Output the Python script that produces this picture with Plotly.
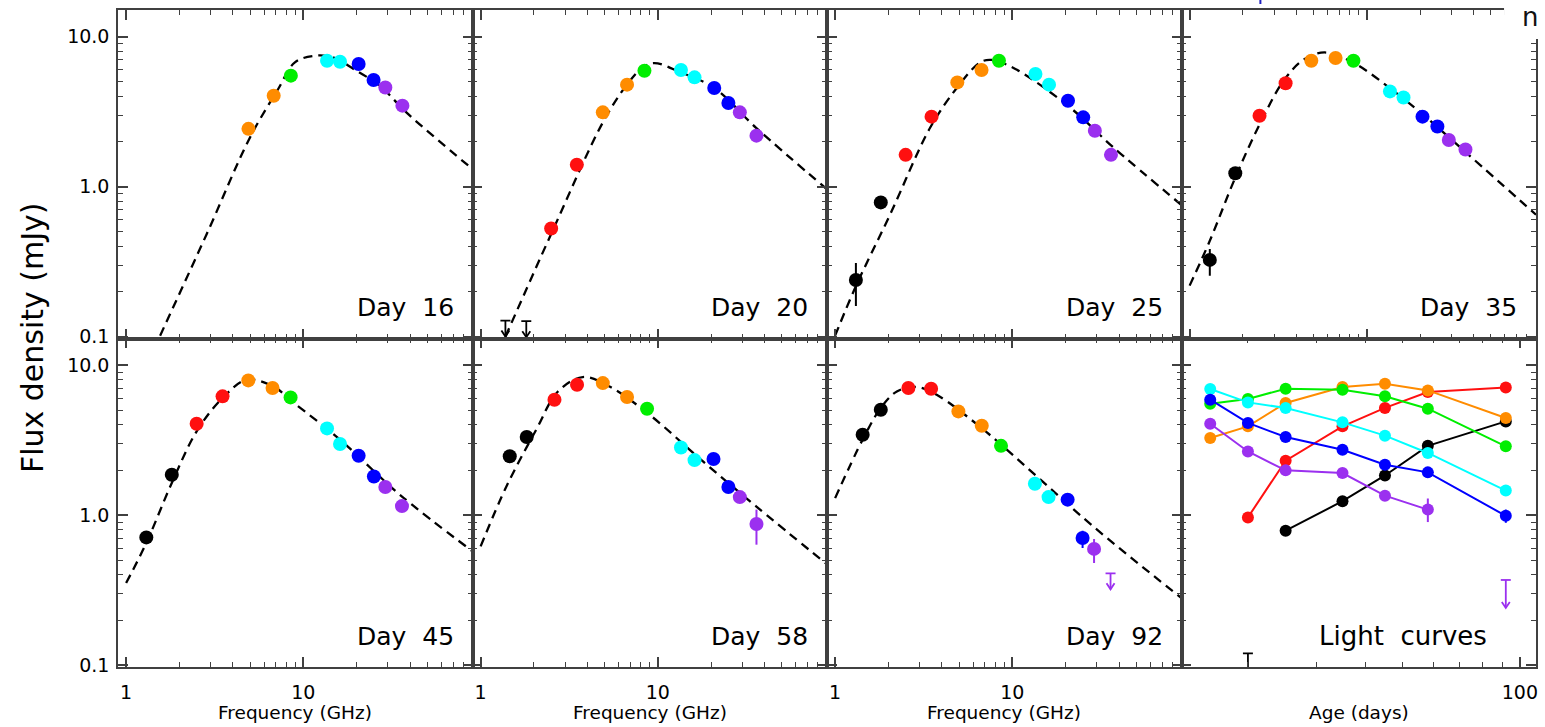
import plotly.graph_objects as go
from plotly.subplots import make_subplots

# ---------------- data ----------------
BAND_COLORS = {"L": "#000000", "S": "#ff1010", "C": "#ff8c00", "X": "#00ee00",
               "Ku": "#00ffff", "K": "#0000ff", "Ka": "#9b30ef"}

EPOCHS = ["Day 16", "Day 20", "Day 25", "Day 35", "Day 45", "Day 58", "Day 92"]

FREQ_D16 = [4.9, 6.8, 8.5, 13.6, 16.1, 20.5, 24.9, 29.0, 36.2]
FLUX_D16 = [2.43, 4.04, 5.5, 6.92, 6.81, 6.58, 5.14, 4.59, 3.47]
BAND_D16 = ["C", "C", "X", "Ku", "Ku", "K", "K", "Ka", "Ka"]

FREQ_D20 = [2.5, 3.49, 4.89, 6.7, 8.4, 13.5, 16.1, 20.8, 25.0, 29.0, 36.0]
FLUX_D20 = [0.527, 1.40, 3.13, 4.79, 5.93, 6.0, 5.36, 4.55, 3.61, 3.13, 2.19]
BAND_D20 = ["S", "S", "C", "C", "X", "Ku", "Ku", "K", "K", "Ka", "Ka"]

FREQ_D25 = [1.31, 1.81, 2.5, 3.5, 4.89, 6.7, 8.4, 13.5, 16.1, 20.6, 25.1, 29.2, 36.0]
FLUX_D25 = [0.239, 0.786, 1.63, 2.93, 4.96, 6.0, 6.92, 5.64, 4.79, 3.74, 2.9, 2.36, 1.63]
BAND_D25 = ["L", "L", "S", "S", "C", "C", "X", "Ku", "Ku", "K", "K", "Ka", "Ka"]

FREQ_D35 = [1.3, 1.81, 2.48, 3.48, 4.86, 6.66, 8.4, 13.5, 16.1, 20.6, 25.0, 29.0, 36.0]
FLUX_D35 = [0.325, 1.23, 2.97, 4.89, 6.92, 7.21, 6.92, 4.32, 3.93, 2.93, 2.52, 2.05, 1.77]
BAND_D35 = ["L", "L", "S", "S", "C", "C", "X", "Ku", "Ku", "K", "K", "Ka", "Ka"]

FREQ_D45 = [1.3, 1.81, 2.5, 3.5, 4.89, 6.7, 8.47, 13.6, 16.1, 20.5, 25.0, 29.0, 36.0]
FLUX_D45 = [0.711, 1.86, 4.07, 6.2, 7.92, 7.05, 6.1, 3.79, 2.98, 2.49, 1.81, 1.54, 1.15]
BAND_D45 = ["L", "L", "S", "S", "C", "C", "X", "Ku", "Ku", "K", "K", "Ka", "Ka"]

FREQ_D58 = [1.46, 1.82, 2.61, 3.5, 4.89, 6.7, 8.69, 13.5, 16.1, 20.6, 25.0, 29.0, 36.0]
FLUX_D58 = [2.47, 3.32, 5.89, 7.41, 7.6, 6.14, 5.13, 2.83, 2.33, 2.37, 1.54, 1.32, 0.873]
BAND_D58 = ["L", "L", "S", "S", "C", "C", "X", "Ku", "Ku", "K", "K", "Ka", "Ka"]

FREQ_D92 = [1.43, 1.81, 2.59, 3.48, 4.96, 6.72, 8.63, 13.4, 16.0, 20.5, 24.9, 28.9]
FLUX_D92 = [3.44, 5.05, 7.05, 6.97, 4.92, 3.95, 2.9, 1.62, 1.32, 1.27, 0.705, 0.596]
BAND_D92 = ["L", "L", "S", "S", "C", "C", "X", "Ku", "Ku", "K", "K", "Ka"]

# error bars (epoch, frequency, low, high)
ERR_EPOCH = ["Day 25", "Day 35", "Day 58", "Day 92", "Day 92"]
ERR_FREQ = [1.31, 1.3, 36.0, 24.9, 28.9]
ERR_LO = [0.16, 0.255, 0.636, 0.604, 0.48]
ERR_HI = [0.31, 0.385, 1.09, 0.788, 0.693]

# upper limits
UL_EPOCH = ["Day 20", "Day 20", "Day 92"]
UL_FREQ = [1.38, 1.81, 35.8]
UL_FLUX = [0.128, 0.127, 0.41]
UL_BAND = ["L", "L", "Ka"]

# model curves (dashed)
MOD_F_D16 = [1.555, 2.85, 5.0, 7.21, 8.96, 11.6, 14.7, 19.9, 27.0, 38.1, 90.0]
MOD_S_D16 = [0.1016, 0.484, 2.13, 4.48, 6.74, 7.47, 7.28, 5.93, 4.71, 3.13, 1.31]
MOD_F_D20 = [1.38, 2.5, 4.89, 6.62, 8.21, 9.55, 13.5, 20.8, 35.7, 90.0]
MOD_S_D20 = [0.10, 0.484, 2.68, 4.71, 6.24, 6.67, 5.78, 4.55, 2.48, 0.96]
MOD_F_D25 = [1.0, 1.3, 2.05, 3.44, 4.86, 6.58, 7.64, 10.4, 21.1, 37.1, 90.0]
MOD_S_D25 = [0.1016, 0.213, 0.658, 2.48, 4.55, 6.74, 7.0, 6.09, 3.38, 1.83, 0.755]
MOD_F_D35 = [1.0, 1.3, 1.81, 2.49, 3.44, 4.46, 5.78, 8.34, 13.7, 21.1, 37.1, 90.0]
MOD_S_D35 = [0.219, 0.436, 1.15, 2.62, 5.22, 7.1, 7.85, 6.74, 4.48, 2.97, 1.65, 0.65]
MOD_F_D45 = [1.0, 1.3, 1.81, 2.5, 3.5, 4.79, 6.76, 8.77, 16.1, 35.0, 90.0]
MOD_S_D45 = [0.353, 0.653, 1.64, 3.62, 6.04, 8.0, 7.22, 5.65, 3.19, 1.37, 0.575]
MOD_F_D58 = [1.0, 1.4, 2.06, 2.73, 3.77, 5.33, 8.96, 17.9, 35.7, 90.0]
MOD_S_D58 = [0.62, 1.56, 3.72, 6.68, 8.34, 7.22, 4.68, 2.29, 1.15, 0.47]
MOD_F_D92 = [1.0, 1.43, 1.81, 2.23, 2.89, 3.74, 6.87, 13.7, 28.6, 90.0]
MOD_S_D92 = [1.30, 3.19, 5.19, 6.68, 7.16, 6.35, 3.72, 1.82, 0.841, 0.28]

# light curves
LC_AGE = [16, 20, 25, 35, 45, 58, 92]
LC_L = [None, None, 0.788, 1.24, 1.84, 2.9, 4.22]
LC_S = [None, 0.967, 2.31, 3.91, 5.19, 6.62, 7.11]
LC_C = [3.27, 3.91, 5.6, 7.16, 7.53, 6.79, 4.45]
LC_X = [5.54, 5.96, 6.97, 6.87, 6.2, 5.13, 2.88]
LC_KU = [6.94, 5.65, 5.19, 4.16, 3.39, 2.6, 1.46]
LC_K = [5.89, 4.12, 3.32, 2.73, 2.17, 1.93, 0.99]
LC_KA = [4.07, 2.66, 1.99, 1.91, 1.35, 1.09, None]
LC_ERR_BAND = ["Ka", "K"]
LC_ERR_AGE = [58, 92]
LC_ERR_LO = [0.9, 0.89]
LC_ERR_HI = [1.29, 1.09]
LC_UL_BAND = ["L", "Ka"]
LC_UL_AGE = [20, 92]
LC_UL_FLUX = [0.12, 0.37]

FREQ_TICKS = [1, 10]
FREQ_MINOR = [2, 3, 4, 5, 6, 7, 8, 9, 20, 30, 40, 50, 60, 70, 80, 90]
AGE_TICKS = [100]
AGE_MINOR = [20, 30, 40, 50, 60, 70, 80, 90]
FLUX_TICKS = [0.1, 1, 10]
FLUX_TICKTEXT = ["0.1", "1.0", "10.0"]
FLUX_MINOR = [0.2, 0.3, 0.4, 0.5, 0.6, 0.7, 0.8, 0.9, 2, 3, 4, 5, 6, 7, 8, 9]

# ---------------- figure ----------------
SPECTRA = [
    ("Day 16", FREQ_D16, FLUX_D16, BAND_D16, MOD_F_D16, MOD_S_D16),
    ("Day 20", FREQ_D20, FLUX_D20, BAND_D20, MOD_F_D20, MOD_S_D20),
    ("Day 25", FREQ_D25, FLUX_D25, BAND_D25, MOD_F_D25, MOD_S_D25),
    ("Day 35", FREQ_D35, FLUX_D35, BAND_D35, MOD_F_D35, MOD_S_D35),
    ("Day 45", FREQ_D45, FLUX_D45, BAND_D45, MOD_F_D45, MOD_S_D45),
    ("Day 58", FREQ_D58, FLUX_D58, BAND_D58, MOD_F_D58, MOD_S_D58),
    ("Day 92", FREQ_D92, FLUX_D92, BAND_D92, MOD_F_D92, MOD_S_D92),
]
BAND_ORDER = ["L", "S", "C", "X", "Ku", "K", "Ka"]

fig = make_subplots(rows=2, cols=4, horizontal_spacing=0, vertical_spacing=0)

YDEC_PX = 150.0
XDEC_PX_F = 177.5
XDEC_PX_A = 390.0


def ul_path(xs, ys, stem_px, xpx):
    px, py = [], []
    xd = 1.0 / xpx
    yd = 1.0 / YDEC_PX
    for x, y in zip(xs, ys):
        tip = y * 10 ** (-stem_px * yd)
        px += [x * 10 ** (-5 * xd), x * 10 ** (5 * xd), None, x, x, None,
               x * 10 ** (-4 * xd), x, x * 10 ** (4 * xd), None]
        py += [y, y, None, y, tip, None,
               tip * 10 ** (6 * yd), tip, tip * 10 ** (6 * yd), None]
    return px, py


for i, (name, fr, fl, bd, mf, ms) in enumerate(SPECTRA):
    r, c = i // 4 + 1, i % 4 + 1
    fig.add_trace(go.Scatter(x=mf, y=ms, mode="lines",
                             line=dict(color="black", width=2.3, dash="9px,6px", shape="spline", smoothing=1.0),
                             showlegend=False, hoverinfo="skip"), row=r, col=c)
    for b in BAND_ORDER:
        xs = [f for f, bb in zip(fr, bd) if bb == b]
        ys = [s for s, bb in zip(fl, bd) if bb == b]
        if not xs:
            continue
        ep, em = [], []
        has_err = False
        for f, s in zip(xs, ys):
            hi, lo = 0.0, 0.0
            for e_ep, e_f, e_lo, e_hi in zip(ERR_EPOCH, ERR_FREQ, ERR_LO, ERR_HI):
                if e_ep == name and abs(e_f - f) < 1e-6:
                    hi, lo = e_hi - s, s - e_lo
                    has_err = True
            ep.append(hi)
            em.append(lo)
        tr = go.Scatter(x=xs, y=ys, mode="markers",
                        marker=dict(color=BAND_COLORS[b], size=14, line=dict(width=0)),
                        showlegend=False)
        if has_err:
            tr.error_y = dict(type="data", symmetric=False, array=ep, arrayminus=em,
                              color=BAND_COLORS[b], thickness=2, width=0)
        fig.add_trace(tr, row=r, col=c)
    # upper limits
    for b in BAND_ORDER:
        uxs = [f for e, f, bb in zip(UL_EPOCH, UL_FREQ, UL_BAND) if e == name and bb == b]
        uys = [s for e, s, bb in zip(UL_EPOCH, UL_FLUX, UL_BAND) if e == name and bb == b]
        if uxs:
            px, py = ul_path(uxs, uys, 16, XDEC_PX_F)
            fig.add_trace(go.Scatter(x=px, y=py, mode="lines",
                                     line=dict(color=BAND_COLORS[b], width=1.8),
                                     showlegend=False, hoverinfo="skip"), row=r, col=c)

# light curves panel
LC_SERIES = [("L", LC_L), ("S", LC_S), ("C", LC_C), ("X", LC_X), ("Ku", LC_KU), ("K", LC_K), ("Ka", LC_KA)]
for b, vals in LC_SERIES:
    ep, em, has_err = [], [], False
    for a, s in zip(LC_AGE, vals):
        hi, lo = 0.0, 0.0
        for eb, ea, elo, ehi in zip(LC_ERR_BAND, LC_ERR_AGE, LC_ERR_LO, LC_ERR_HI):
            if eb == b and ea == a and s is not None:
                hi, lo = ehi - s, s - elo
                has_err = True
        ep.append(hi)
        em.append(lo)
    tr = go.Scatter(x=LC_AGE, y=vals, mode="lines+markers",
                    line=dict(color=BAND_COLORS[b], width=2),
                    marker=dict(color=BAND_COLORS[b], size=12, line=dict(width=0)),
                    showlegend=False)
    if has_err:
        tr.error_y = dict(type="data", symmetric=False, array=ep, arrayminus=em,
                          color=BAND_COLORS[b], thickness=2, width=0)
    fig.add_trace(tr, row=2, col=4)
for b in BAND_ORDER:
    uxs = [a for a, bb in zip(LC_UL_AGE, LC_UL_BAND) if bb == b]
    uys = [s for s, bb in zip(LC_UL_FLUX, LC_UL_BAND) if bb == b]
    if uxs:
        px, py = ul_path(uxs, uys, 28, XDEC_PX_A)
        fig.add_trace(go.Scatter(x=px, y=py, mode="lines",
                                 line=dict(color=BAND_COLORS[b], width=1.8),
                                 showlegend=False, hoverinfo="skip"), row=2, col=4)

AXC = "#404040"
TICKFONT = dict(family="DejaVu Sans", size=19, color="black")
YRANGE = [-1.012, 1.178]
FRANGE = [-0.0458, 1.9542]
ARANGE = [1.1303, 2.0414]

for r in (1, 2):
    for c in (1, 2, 3, 4):
        is_lc = (r == 2 and c == 4)
        fig.update_xaxes(row=r, col=c, type="log",
                         range=ARANGE if is_lc else FRANGE,
                         tickmode="array",
                         tickvals=AGE_TICKS if is_lc else FREQ_TICKS,
                         ticktext=[str(v) for v in (AGE_TICKS if is_lc else FREQ_TICKS)],
                         ticks="inside", ticklen=10, tickwidth=1.5, tickcolor=AXC,
                         mirror="ticks", showline=True, linecolor=AXC, linewidth=1.5,
                         showgrid=False, zeroline=False,
                         showticklabels=(r == 2), tickfont=TICKFONT, ticklabelstandoff=7,
                         minor=dict(tickmode="array", tickvals=AGE_MINOR if is_lc else FREQ_MINOR,
                                    ticks="inside", ticklen=5, tickwidth=1.3, tickcolor=AXC,
                                    showgrid=False))
        fig.update_yaxes(row=r, col=c, type="log", range=YRANGE,
                         tickmode="array", tickvals=FLUX_TICKS, ticktext=FLUX_TICKTEXT,
                         ticks="inside", ticklen=10, tickwidth=1.5, tickcolor=AXC,
                         mirror="ticks", showline=True, linecolor=AXC, linewidth=1.5,
                         showgrid=False, zeroline=False,
                         showticklabels=(c == 1), tickfont=TICKFONT, ticklabelstandoff=3,
                         minor=dict(tickmode="array", tickvals=FLUX_MINOR,
                                    ticks="inside", ticklen=5, tickwidth=1.3, tickcolor=AXC,
                                    showgrid=False))

annotations = []
LABELS = EPOCHS + ["Light curves"]
for i, lab in enumerate(LABELS):
    n = i + 1
    xr = "x domain" if n == 1 else f"x{n} domain"
    yr = "y domain" if n == 1 else f"y{n} domain"
    text = lab.replace(" ", "\u00a0\u00a0")
    annotations.append(dict(text=text, xref=xr, yref=yr, x=1, y=0.094,
                            xanchor="right", yanchor="middle",
                            xshift=-(47 if n == 8 else 17), showarrow=False,
                            font=dict(family="DejaVu Sans", size=26 if n == 8 else 25, color="black")))
for n in (5, 6, 7, 8):
    annotations.append(dict(text="Age (days)" if n == 8 else "Frequency (GHz)",
                            xref=f"x{n} domain", yref="paper", x=0.5, y=-0.07,
                            xanchor="center", yanchor="middle", showarrow=False,
                            font=dict(family="DejaVu Sans", size=18.5, color="black")))
annotations.append(dict(text="Flux density (mJy)", xref="paper", yref="paper",
                        x=(32 - 118) / 1420, y=(667 - 338) / 657, textangle=-90,
                        xanchor="center", yanchor="middle", showarrow=False,
                        font=dict(family="DejaVu Sans", size=30, color="black")))
annotations.append(dict(text="n", xref="paper", yref="paper",
                        x=(1532 - 118) / 1420, y=(667 - 1) / 657,
                        xanchor="center", yanchor="top", borderpad=0, showarrow=False,
                        font=dict(family="DejaVu Sans", size=26, color="#111111")))

shapes = [
    dict(type="rect", xref="paper", yref="paper", layer="above",
         x0=(1506 - 118) / 1420, x1=(1546 - 118) / 1420,
         y0=(667 - 39) / 657, y1=(667 + 1) / 657,
         fillcolor="white", line=dict(width=0)),
    dict(type="line", xref="paper", yref="paper", layer="above",
         x0=(1262 - 118) / 1420, x1=(1262 - 118) / 1420,
         y0=(667 - 4) / 657, y1=(667 + 1) / 657,
         line=dict(color="#2020c0", width=2)),
]

fig.update_layout(width=1545, height=727,
                  margin=dict(l=118, r=7, t=10, b=60),
                  plot_bgcolor="white", paper_bgcolor="white",
                  font=dict(family="DejaVu Sans", color="black"),
                  annotations=annotations, shapes=shapes, showlegend=False)

fig.write_html("out.html")
